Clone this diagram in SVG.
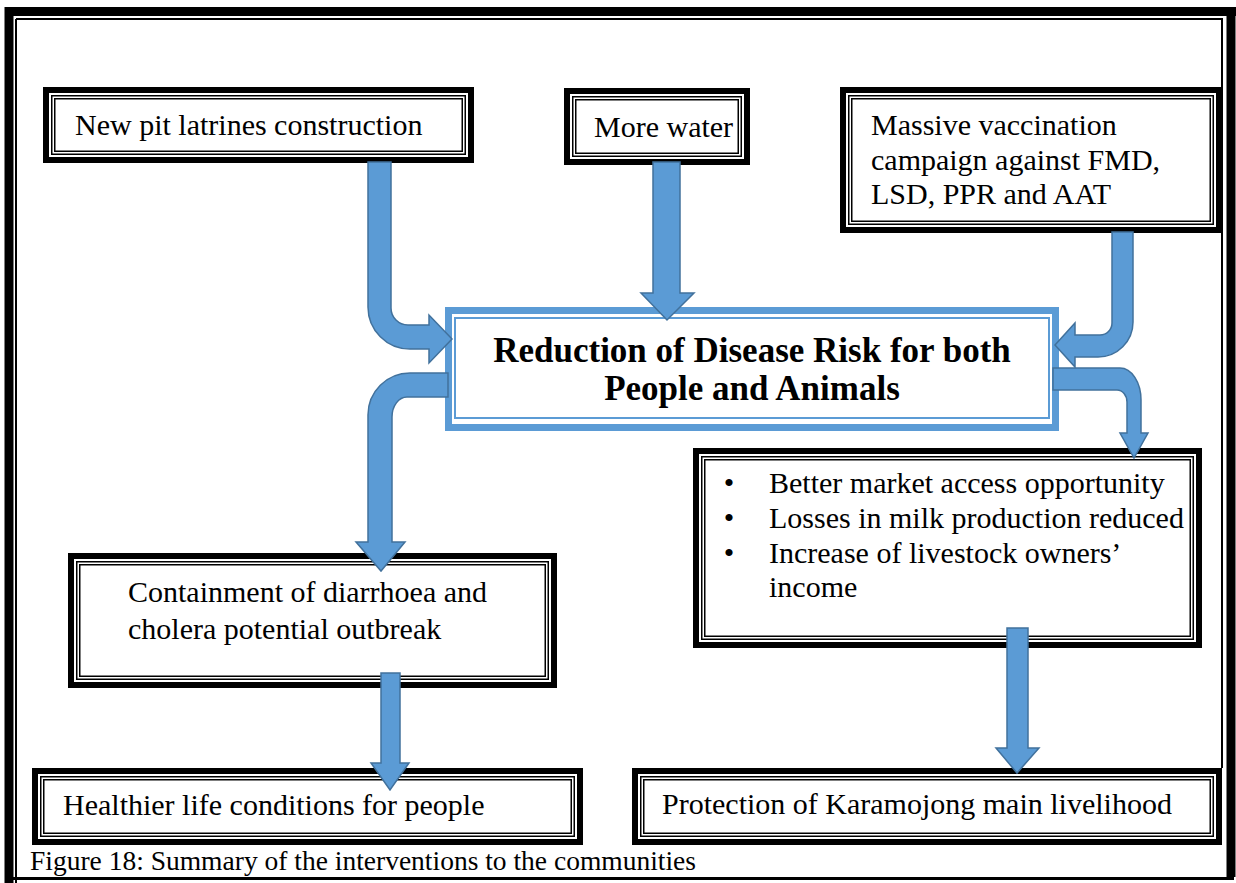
<svg xmlns="http://www.w3.org/2000/svg" width="1236" height="883" viewBox="0 0 1236 883">
<style>
.t{font-family:"Liberation Serif","Times New Roman",serif;font-size:30px;fill:#000}
.b{font-weight:bold;font-size:35px}
.thick{fill:none;stroke:#000;stroke-width:6}
.thin{fill:none;stroke:#000;stroke-width:1.5}
.bthick{fill:none;stroke:#5B9BD5;stroke-width:7}
.bthin{fill:none;stroke:#5B9BD5;stroke-width:2}
.arr{fill:#5B9BD5;stroke:#41719C;stroke-width:1.5;stroke-linejoin:miter}
</style>
<rect width="1236" height="883" fill="#fff"/>
<g id="page-border">
<path d="M5 11.5H1236M9 7V883M1231 7V877" stroke="#000" stroke-width="9" fill="none"/>
<path d="M16 19H1222V768M16 19V883" stroke="#000" stroke-width="2" fill="none"/>
<path d="M5 878.5H1234" stroke="#000" stroke-width="3" fill="none"/>
</g>
<g id="box-latrines">
<rect class="thick" x="46" y="90" width="425" height="70"/>
<rect class="thin" x="51.75" y="95.75" width="413.5" height="58.5"/>
<rect class="thin" x="54.75" y="98.75" width="407.5" height="52.5"/>
<text class="t" x="75" y="135">New pit latrines construction</text>
</g>
<g id="box-water">
<rect class="thick" x="567" y="91" width="180" height="71"/>
<rect class="thin" x="572.75" y="96.75" width="168.5" height="59.5"/>
<rect class="thin" x="575.75" y="99.75" width="162.5" height="53.5"/>
<text class="t" x="594" y="137">More water</text>
</g>
<g id="box-vaccination">
<rect class="thick" x="843" y="90" width="376" height="140"/>
<rect class="thin" x="848.75" y="95.75" width="364.5" height="128.5"/>
<rect class="thin" x="851.75" y="98.75" width="358.5" height="122.5"/>
<text class="t" x="871" y="135">Massive vaccination</text>
<text class="t" x="871" y="170">campaign against FMD,</text>
<text class="t" x="871" y="204">LSD, PPR and AAT</text>
</g>
<g id="box-center">
<rect class="bthick" x="448.5" y="310.5" width="607" height="117"/>
<rect class="bthin" x="455" y="318" width="594" height="100"/>
<text class="t b" x="752" y="362" text-anchor="middle">Reduction of Disease Risk for both</text>
<text class="t b" x="752" y="400" text-anchor="middle">People and Animals</text>
</g>
<g id="box-containment">
<rect class="thick" x="71" y="556" width="483" height="129"/>
<rect class="thin" x="76.75" y="561.75" width="471.5" height="117.5"/>
<rect class="thin" x="79.75" y="564.75" width="465.5" height="111.5"/>
<text class="t" x="128" y="602">Containment of diarrhoea and</text>
<text class="t" x="128" y="639">cholera potential outbreak</text>
</g>
<g id="box-benefits">
<rect class="thick" x="696" y="451" width="503" height="194"/>
<rect class="thin" x="701.75" y="456.75" width="491.5" height="182.5"/>
<rect class="thin" x="704.75" y="459.75" width="485.5" height="176.5"/>
<text class="t" x="729" y="493" text-anchor="middle">•</text>
<text class="t" x="769" y="493">Better market access opportunity</text>
<text class="t" x="729" y="528" text-anchor="middle">•</text>
<text class="t" x="769" y="528">Losses in milk production reduced</text>
<text class="t" x="729" y="563" text-anchor="middle">•</text>
<text class="t" x="769" y="563">Increase of livestock owners’</text>
<text class="t" x="769" y="597">income</text>
</g>
<g id="box-healthier">
<rect class="thick" x="35" y="771" width="545" height="71"/>
<rect class="thin" x="40.75" y="776.75" width="533.5" height="59.5"/>
<rect class="thin" x="43.75" y="779.75" width="527.5" height="53.5"/>
<text class="t" x="63" y="815">Healthier life conditions for people</text>
</g>
<g id="box-protection">
<rect class="thick" x="635" y="771" width="584" height="71"/>
<rect class="thin" x="640.75" y="776.75" width="572.5" height="59.5"/>
<rect class="thin" x="643.75" y="779.75" width="566.5" height="53.5"/>
<text class="t" x="662" y="814">Protection of Karamojong main livelihood</text>
</g>
<g id="connectors">
<path class="arr" d="M368 162H391V308A17 17 0 0 0 408 325H429V315L452 339L429 363V349H410A42 42 0 0 1 368 307Z"/>
<path class="arr" d="M653 162H680V293H694L667 320L641 293H653Z"/>
<path class="arr" d="M1112 232H1133V322A35 35 0 0 1 1098 357H1075V367L1055 345L1075 323V335H1100A12 12 0 0 0 1112 323Z"/>
<path class="arr" d="M1053 368H1120A21 32 0 0 1 1141 400V433H1148L1134 458L1120 433H1127V402A10 12 0 0 0 1117 390H1053Z"/>
<path class="arr" d="M448 373H410A42 42 0 0 0 368 415V542H356L381 571L405 542H392V417A15 20 0 0 1 407 397H448Z"/>
<path class="arr" d="M381 673H400V763H409L390 790L371 763H381Z"/>
<path class="arr" d="M1007 628H1028V748H1039L1017 773L996 748H1007Z"/>
</g>
<text class="t" x="30" y="870" style="font-size:27.5px">Figure 18: Summary of the interventions to the communities</text>
</svg>
